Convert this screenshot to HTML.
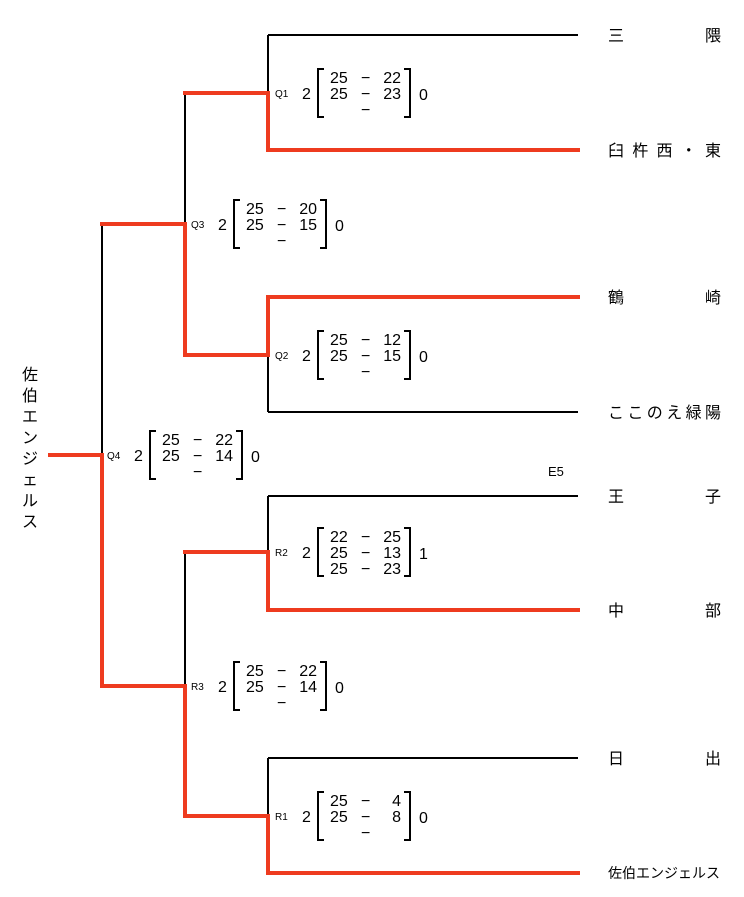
<!DOCTYPE html>
<html><head><meta charset="utf-8"><style>
html,body{margin:0;padding:0;background:#fff;}
svg{display:block;}
text{font-family:"Liberation Sans","Noto Sans CJK JP",sans-serif;fill:#000;}
.t{font-size:16px;}
.lb{font-size:10px;}
.sc{font-size:16px;}
</style></head><body>
<svg width="744" height="897" viewBox="0 0 744 897" xmlns="http://www.w3.org/2000/svg">
<g fill="none" stroke="#000" stroke-width="2">
<line x1="268" y1="35" x2="578" y2="35"/>
<line x1="268" y1="412" x2="578" y2="412"/>
<line x1="268" y1="496" x2="578" y2="496"/>
<line x1="268" y1="758" x2="578" y2="758"/>
<line x1="268" y1="35" x2="268" y2="93"/>
<line x1="268" y1="355" x2="268" y2="412"/>
<line x1="268" y1="496" x2="268" y2="552"/>
<line x1="268" y1="758" x2="268" y2="816"/>
<line x1="185" y1="93" x2="185" y2="224"/>
<line x1="185" y1="552" x2="185" y2="686"/>
<line x1="102" y1="224" x2="102" y2="455"/>
</g>
<g fill="none" stroke="#EE3B1F" stroke-width="4" stroke-linecap="square">
<polyline points="185,93 268,93 268,150 578,150"/>
<polyline points="578,297 268,297 268,355 185,355 185,224 102,224"/>
<polyline points="185,552 268,552 268,610 578,610"/>
<polyline points="578,873 268,873 268,816 185,816 185,686 102,686 102,455 50,455"/>
</g>

<text class="t" x="608" y="41" textLength="113" lengthAdjust="spacing">三隈</text>
<text class="t" x="608" y="156" textLength="113" lengthAdjust="spacing">臼杵西・東</text>
<text class="t" x="608" y="303" textLength="113" lengthAdjust="spacing">鶴崎</text>
<text class="t" x="608" y="418" textLength="113" lengthAdjust="spacing">ここのえ緑陽</text>
<text class="t" x="608" y="502" textLength="113" lengthAdjust="spacing">王子</text>
<text class="t" x="608" y="616" textLength="113" lengthAdjust="spacing">中部</text>
<text class="t" x="608" y="764" textLength="113" lengthAdjust="spacing">日出</text>
<text x="608" y="878" style="font-size:14px">佐伯エンジェルス</text>
<text x="548" y="476" style="font-size:13px">E5</text>

<g class="t">
<text x="22" y="380">佐</text>
<text x="22" y="401">伯</text>
<text x="22" y="422">エ</text>
<text x="22" y="443">ン</text>
<text x="22" y="464">ジ</text>
<text x="22" y="485">ェ</text>
<text x="22" y="506">ル</text>
<text x="22" y="527">ス</text>
</g>

<g transform="translate(275,93)">
<text class="lb" x="0" y="4">Q1</text><text class="sc" x="27" y="6">2</text>
<path d="M49,-24 H43 V24 H49 M129,-24 H135 V24 H129" fill="none" stroke="#000" stroke-width="2"/>
<text class="sc" x="55" y="-10">25</text><text class="sc" x="86" y="-10">−</text><text class="sc" x="126" y="-10" text-anchor="end">22</text>
<text class="sc" x="55" y="6">25</text><text class="sc" x="86" y="6">−</text><text class="sc" x="126" y="6" text-anchor="end">23</text>
<text class="sc" x="86" y="22">−</text>
<text class="sc" x="144" y="7">0</text>
</g>
<g transform="translate(191,224)">
<text class="lb" x="0" y="4">Q3</text><text class="sc" x="27" y="6">2</text>
<path d="M49,-24 H43 V24 H49 M129,-24 H135 V24 H129" fill="none" stroke="#000" stroke-width="2"/>
<text class="sc" x="55" y="-10">25</text><text class="sc" x="86" y="-10">−</text><text class="sc" x="126" y="-10" text-anchor="end">20</text>
<text class="sc" x="55" y="6">25</text><text class="sc" x="86" y="6">−</text><text class="sc" x="126" y="6" text-anchor="end">15</text>
<text class="sc" x="86" y="22">−</text>
<text class="sc" x="144" y="7">0</text>
</g>
<g transform="translate(275,355)">
<text class="lb" x="0" y="4">Q2</text><text class="sc" x="27" y="6">2</text>
<path d="M49,-24 H43 V24 H49 M129,-24 H135 V24 H129" fill="none" stroke="#000" stroke-width="2"/>
<text class="sc" x="55" y="-10">25</text><text class="sc" x="86" y="-10">−</text><text class="sc" x="126" y="-10" text-anchor="end">12</text>
<text class="sc" x="55" y="6">25</text><text class="sc" x="86" y="6">−</text><text class="sc" x="126" y="6" text-anchor="end">15</text>
<text class="sc" x="86" y="22">−</text>
<text class="sc" x="144" y="7">0</text>
</g>
<g transform="translate(107,455)">
<text class="lb" x="0" y="4">Q4</text><text class="sc" x="27" y="6">2</text>
<path d="M49,-24 H43 V24 H49 M129,-24 H135 V24 H129" fill="none" stroke="#000" stroke-width="2"/>
<text class="sc" x="55" y="-10">25</text><text class="sc" x="86" y="-10">−</text><text class="sc" x="126" y="-10" text-anchor="end">22</text>
<text class="sc" x="55" y="6">25</text><text class="sc" x="86" y="6">−</text><text class="sc" x="126" y="6" text-anchor="end">14</text>
<text class="sc" x="86" y="22">−</text>
<text class="sc" x="144" y="7">0</text>
</g>
<g transform="translate(275,552)">
<text class="lb" x="0" y="4">R2</text><text class="sc" x="27" y="6">2</text>
<path d="M49,-24 H43 V24 H49 M129,-24 H135 V24 H129" fill="none" stroke="#000" stroke-width="2"/>
<text class="sc" x="55" y="-10">22</text><text class="sc" x="86" y="-10">−</text><text class="sc" x="126" y="-10" text-anchor="end">25</text>
<text class="sc" x="55" y="6">25</text><text class="sc" x="86" y="6">−</text><text class="sc" x="126" y="6" text-anchor="end">13</text>
<text class="sc" x="55" y="22">25</text><text class="sc" x="86" y="22">−</text><text class="sc" x="126" y="22" text-anchor="end">23</text>
<text class="sc" x="144" y="7">1</text>
</g>
<g transform="translate(191,686)">
<text class="lb" x="0" y="4">R3</text><text class="sc" x="27" y="6">2</text>
<path d="M49,-24 H43 V24 H49 M129,-24 H135 V24 H129" fill="none" stroke="#000" stroke-width="2"/>
<text class="sc" x="55" y="-10">25</text><text class="sc" x="86" y="-10">−</text><text class="sc" x="126" y="-10" text-anchor="end">22</text>
<text class="sc" x="55" y="6">25</text><text class="sc" x="86" y="6">−</text><text class="sc" x="126" y="6" text-anchor="end">14</text>
<text class="sc" x="86" y="22">−</text>
<text class="sc" x="144" y="7">0</text>
</g>
<g transform="translate(275,816)">
<text class="lb" x="0" y="4">R1</text><text class="sc" x="27" y="6">2</text>
<path d="M49,-24 H43 V24 H49 M129,-24 H135 V24 H129" fill="none" stroke="#000" stroke-width="2"/>
<text class="sc" x="55" y="-10">25</text><text class="sc" x="86" y="-10">−</text><text class="sc" x="126" y="-10" text-anchor="end">4</text>
<text class="sc" x="55" y="6">25</text><text class="sc" x="86" y="6">−</text><text class="sc" x="126" y="6" text-anchor="end">8</text>
<text class="sc" x="86" y="22">−</text>
<text class="sc" x="144" y="7">0</text>
</g>
</svg>
</body></html>
